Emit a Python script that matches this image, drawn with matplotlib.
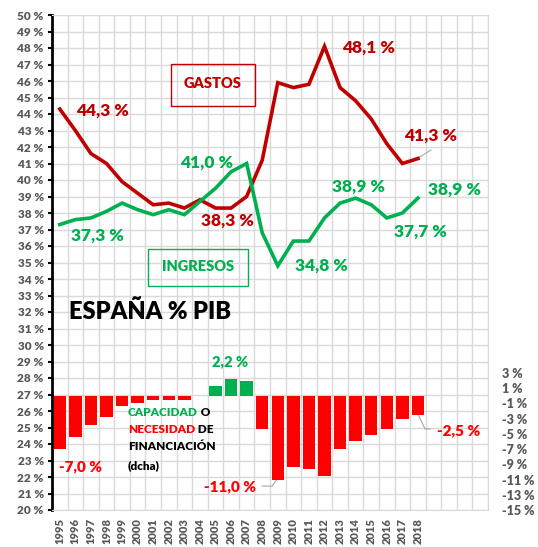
import numpy as np
import matplotlib
matplotlib.use('Agg')
import matplotlib.pyplot as plt
from matplotlib.patches import Rectangle

plt.rcParams['font.family'] = ['Lato', 'DejaVu Sans']
plt.rcParams['font.weight'] = 'heavy'

# datos (% del PIB)
years = [str(y) for y in range(1995, 2019)] + ['', '', '', '']
gastos = [44.3, 43.0, 41.6, 41.0, 39.9, 39.2, 38.5, 38.6, 38.3, 38.8, 38.3, 38.3,
          39.0, 41.2, 45.9, 45.6, 45.8, 48.1, 45.6, 44.8, 43.7, 42.2, 41.0, 41.3]
ingresos = [37.3, 37.6, 37.7, 38.1, 38.6, 38.2, 37.9, 38.2, 37.9, 38.7, 39.5, 40.5,
            41.0, 36.8, 34.8, 36.3, 36.3, 37.7, 38.6, 38.9, 38.5, 37.7, 38.0, 38.9]
saldo = [-7.0, -5.4, -3.8, -2.8, -1.3, -1.0, -0.5, -0.5, -0.5, 0.0, 1.3, 2.2,
         2.0, -4.4, -11.0, -9.4, -9.6, -10.5, -7.0, -5.9, -5.2, -4.3, -3.0, -2.5]

RED = '#C00000'
GREEN = '#00B050'
BRED = '#FF0000'
GRAY = '#595959'
GRID = '#D9D9D9'
W = 'heavy'

fig = plt.figure(figsize=(5.38, 5.47), dpi=100)
ax = fig.add_axes([52/538, 1-510/547, 436/538, 495/547])
ax2 = ax.twinx()

n = len(years)
x = np.arange(len(gastos))

# barras (eje derecho)
cols = [GREEN if v > 0 else BRED for v in saldo]
ax2.bar(x, saldo, width=0.8, color=cols, zorder=2)
ax2.set_ylim(-15, 50)
ax2.set_yticks(range(-15, 4, 2))
ax2.set_yticklabels([f'{v} %' for v in range(-15, 4, 2)], color=GRAY, fontsize=9, fontweight=W)
ax2.tick_params(axis='y', length=0, pad=10)
for s in ax2.spines.values():
    s.set_visible(False)

# lineas (eje izquierdo)
ax.plot(x, gastos, color=RED, lw=2.6, solid_joinstyle='miter', zorder=3)
ax.plot(x, ingresos, color=GREEN, lw=2.6, solid_joinstyle='miter', zorder=3)
ax.set_ylim(20, 50)
ax.set_xlim(-0.5, n - 0.5)
ax.set_yticks(range(20, 51))
ax.set_yticklabels([f'{v} %' for v in range(20, 51)], color=GRAY, fontsize=8.5, fontweight=W)
ax.set_xticks(range(n))
ax.set_xticklabels(years, rotation=90, color=GRAY, fontsize=8, fontweight=W)
ax.set_xticks(np.arange(-0.5, n, 1), minor=True)
ax.tick_params(axis='x', which='both', length=0, pad=6)
ax.tick_params(axis='y', length=3, width=1.5, color='black', pad=3)
ax.grid(axis='y', which='major', color=GRID, lw=1)
ax.grid(axis='x', which='minor', color=GRID, lw=1)
ax.set_axisbelow(True)
ax.spines['left'].set_linewidth(2)
for s in ['top', 'right', 'bottom']:
    ax.spines[s].set_color(GRID)

# cajas de leyenda
ax.add_patch(Rectangle((7.14, 44.48), 5.4, 2.55, fill=False, ec=RED, lw=1))
ax.text(9.84, 45.85, 'GASTOS', color=RED, fontsize=10.5, fontweight=W, ha='center', va='center')
ax.add_patch(Rectangle((5.67, 33.58), 6.42, 2.24, fill=False, ec=GREEN, lw=1))
ax.text(8.88, 34.73, 'INGRESOS', color=GREEN, fontsize=10.5, fontweight=W, ha='center', va='center')

ax.text(0.59, 32.0, 'ESPAÑA % PIB', color='black', fontsize=17, fontweight=W, ha='left', va='center')

# etiquetas de valores
fs = 12.5
ax.text(2.74, 44.18, '44,3 %', color=RED, fontsize=fs, fontweight=W, ha='center', va='center')
ax.text(10.77, 37.52, '38,3 %', color=RED, fontsize=fs, fontweight=W, ha='center', va='center')
ax.text(19.8, 48.0, '48,1 %', color=RED, fontsize=fs, fontweight=W, ha='center', va='center')
ax.text(23.84, 42.67, '41,3 %', color=RED, fontsize=fs, fontweight=W, ha='center', va='center')
ax.plot([23.0, 23.84], [41.33, 41.82], color='#A6A6A6', lw=0.8)

ax.text(9.46, 41.03, '41,0 %', color=GREEN, fontsize=fs, fontweight=W, ha='center', va='center')
ax.text(2.42, 36.61, '37,3 %', color=GREEN, fontsize=fs, fontweight=W, ha='center', va='center')
ax.text(16.78, 34.79, '34,8 %', color=GREEN, fontsize=fs, fontweight=W, ha='center', va='center')
ax.text(19.19, 39.58, '38,9 %', color=GREEN, fontsize=fs, fontweight=W, ha='center', va='center')
ax.text(25.35, 39.39, '38,9 %', color=GREEN, fontsize=fs, fontweight=W, ha='center', va='center')
ax.text(23.17, 36.85, '37,7 %', color=GREEN, fontsize=fs, fontweight=W, ha='center', va='center')

ax.text(10.96, 28.97, '2,2 %', color=GREEN, fontsize=10.5, fontweight=W, ha='center', va='center')
ax.text(1.36, 22.61, '-7,0 %', color=BRED, fontsize=11, fontweight=W, ha='center', va='center')
ax.text(12.6, 21.39, '-11,0 %', color=BRED, fontsize=11, fontweight=W, ha='right', va='center')
ax.plot([12.99, 13.63, 14.02], [21.45, 21.45, 21.94], color='#A6A6A6', lw=0.8)
ax.text(24.23, 24.79, '-2,5 %', color=BRED, fontsize=11, fontweight=W, ha='left', va='center')
ax.plot([23.0, 23.46, 23.78], [25.82, 24.91, 24.91], color='#A6A6A6', lw=0.8)

# texto del saldo
t1 = ax.text(4.38, 25.88, 'CAPACIDAD', color=GREEN, fontsize=8.5, fontweight=W, ha='left', va='center')
ax.annotate(' O', xy=(1, 0.5), xycoords=t1, color='black', fontsize=8.5, fontweight=W, va='center')
t2 = ax.text(4.38, 24.85, 'NECESIDAD', color=BRED, fontsize=8.5, fontweight=W, ha='left', va='center')
ax.annotate(' DE', xy=(1, 0.5), xycoords=t2, color='black', fontsize=8.5, fontweight=W, va='center')
ax.text(4.38, 23.82, 'FINANCIACIÓN', color='black', fontsize=8.5, fontweight=W, ha='left', va='center')
ax.text(4.38, 22.67, '(dcha)', color='black', fontsize=8.5, fontweight=W, ha='left', va='center')

fig.savefig('out.png', dpi=100, facecolor='white')
